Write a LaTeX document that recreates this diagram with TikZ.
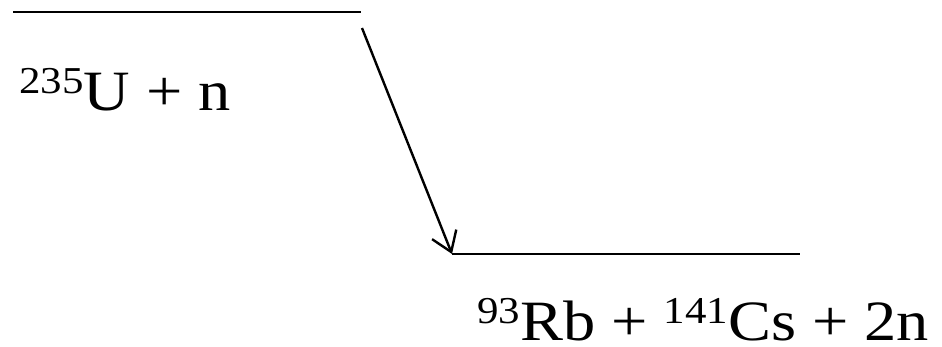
\documentclass[tikz,border=0pt]{standalone}
\usepackage{fontspec}
\setmainfont{Liberation Serif}
\usetikzlibrary{arrows.meta}
\newcommand\isosup[1]{\raisebox{17pt}{\fontsize{38}{40}\selectfont #1}}
\tikzset{
  level/.style={line width=2.4pt},
  reaction/.style={line width=2.4pt,-{Straight Barb[length=19pt,width=26pt,line width=2.4pt]}},
  eqtext/.style={inner sep=0pt,anchor=base west,text depth=0pt,font=\fontsize{57}{60}\selectfont}
}
\begin{document}
\begin{tikzpicture}[x=1pt,y=-1pt]
\useasboundingbox (0,0) rectangle (942,346);
\coordinate (t1) at (13,12);
\coordinate (t2) at (361,12);
\coordinate (b1) at (452,254);
\coordinate (b2) at (800,254);
\coordinate (as) at (362,28);
\draw[level] (t1) -- (t2);
\draw[level] (b1) -- (b2);
\draw[reaction] (as) -- (b1);
\node[eqtext] (reac) at (19,110) {\scalebox{1.13}[1]{\isosup{235}U + n}};
\node[eqtext] (prod) at (477,340) {\scalebox{1.13}[1]{\isosup{93}Rb + \isosup{141}Cs + 2n}};
\end{tikzpicture}
\end{document}
